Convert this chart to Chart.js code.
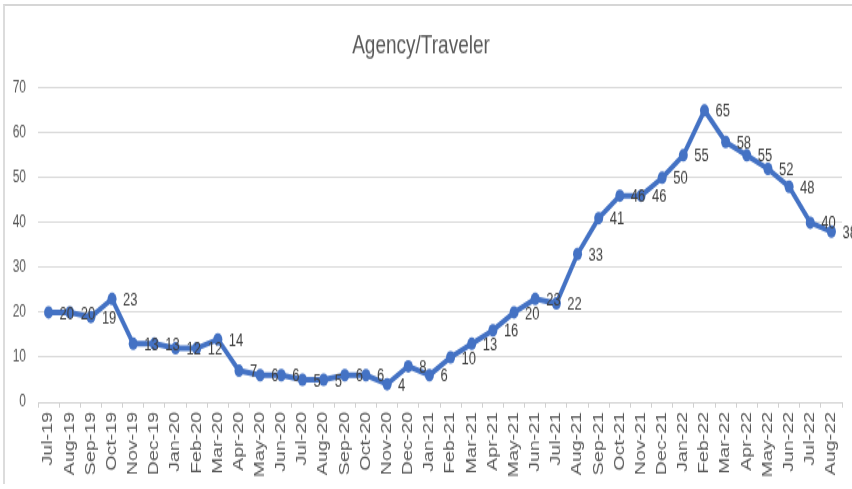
<!DOCTYPE html>
<html>
<head>
<meta charset="utf-8">
<script src="https://cdn.jsdelivr.net/npm/chart.js@4/dist/chart.umd.min.js"></script>
<style>
  html, body { margin: 0; padding: 0; background: #ffffff; overflow: hidden; }
  #stage { position: relative; width: 852px; height: 489px; overflow: hidden; background: #fff; }
  #wrap { position: absolute; left: 0; top: 0; width: 852px; height: 349px; transform-origin: 0 0; transform: scaleY(1.4011); }
  #frame { position: absolute; left: 3px; top: 4px; width: 860px; height: 478px; border-top: 2px solid #d6d6d6; border-left: 2px solid #dcdcdc; pointer-events: none; }
</style>
</head>
<body>
<div id="stage">
  <div id="wrap"><canvas id="c" width="852" height="349"></canvas></div>
  <div id="frame"></div>
</div>
<script>
const chartTitle = "Agency/Traveler";
const months = ["Jul-19","Aug-19","Sep-19","Oct-19","Nov-19","Dec-19","Jan-20","Feb-20","Mar-20","Apr-20","May-20","Jun-20","Jul-20","Aug-20","Sep-20","Oct-20","Nov-20","Dec-20","Jan-21","Feb-21","Mar-21","Apr-21","May-21","Jun-21","Jul-21","Aug-21","Sep-21","Oct-21","Nov-21","Dec-21","Jan-22","Feb-22","Mar-22","Apr-22","May-22","Jun-22","Jul-22","Aug-22"];
const agencyTraveler = [20,20,19,23,13,13,12,12,14,7,6,6,5,5,6,6,4,8,6,10,13,16,20,23,22,33,41,46,46,50,55,65,58,55,52,48,40,38];
const yTicks = [0,10,20,30,40,50,60,70];

const dataLabels = {
  id: 'dataLabels',
  afterDatasetsDraw(chart) {
    const ctx = chart.ctx;
    const meta = chart.getDatasetMeta(0);
    const vals = chart.data.datasets[0].data;
    ctx.save();
    ctx.font = '13px "Liberation Sans", Arial, sans-serif';
    ctx.fillStyle = '#404040';
    ctx.textAlign = 'left';
    ctx.textBaseline = 'middle';
    meta.data.forEach((pt, i) => {
      ctx.fillText(String(vals[i]), pt.x + 11, pt.y + 1);
    });
    ctx.restore();
  }
};

new Chart(document.getElementById('c'), {
  type: 'line',
  data: {
    labels: months,
    datasets: [{
      label: chartTitle,
      data: agencyTraveler,
      borderColor: '#4472C4',
      backgroundColor: '#4472C4',
      borderWidth: 4,
      pointRadius: 4.5,
      pointBorderWidth: 0,
      pointBackgroundColor: '#4472C4',
      tension: 0,
      clip: false
    }]
  },
  options: {
    responsive: false,
    animation: false,
    devicePixelRatio: 1,
    layout: { padding: { left: 0, right: 10, top: 0, bottom: 0 } },
    plugins: {
      legend: { display: false },
      tooltip: { enabled: false },
      title: {
        display: true,
        text: chartTitle,
        color: '#595959',
        font: { family: '"Liberation Sans", Arial, sans-serif', size: 19, weight: 'normal', lineHeight: 1.2 },
        padding: { top: 21, bottom: 19 }
      }
    },
    scales: {
      x: {
        offset: true,
        afterFit(scale) { scale.height = 62; },
        grid: {
          display: true,
          offset: true,
          drawOnChartArea: false,
          drawTicks: true,
          tickLength: 4,
          color: '#d0d0d0'
        },
        border: { display: true, color: '#d0d0d0', width: 1 },
        ticks: {
          autoSkip: false,
          maxRotation: 90,
          minRotation: 90,
          padding: 3,
          color: '#595959',
          font: { family: '"Liberation Sans", Arial, sans-serif', size: 14 }
        }
      },
      y: {
        min: 0,
        max: 70,
        afterFit(scale) { scale.width = 38; },
        afterBuildTicks(scale) { scale.ticks = yTicks.map(v => ({ value: v })); },
        grid: { color: '#d9d9d9', lineWidth: 1, drawTicks: false },
        border: { display: false },
        ticks: {
          padding: 12,
          color: '#595959',
          font: { family: '"Liberation Sans", Arial, sans-serif', size: 12 }
        }
      }
    }
  },
  plugins: [dataLabels]
});
</script>
</body>
</html>
